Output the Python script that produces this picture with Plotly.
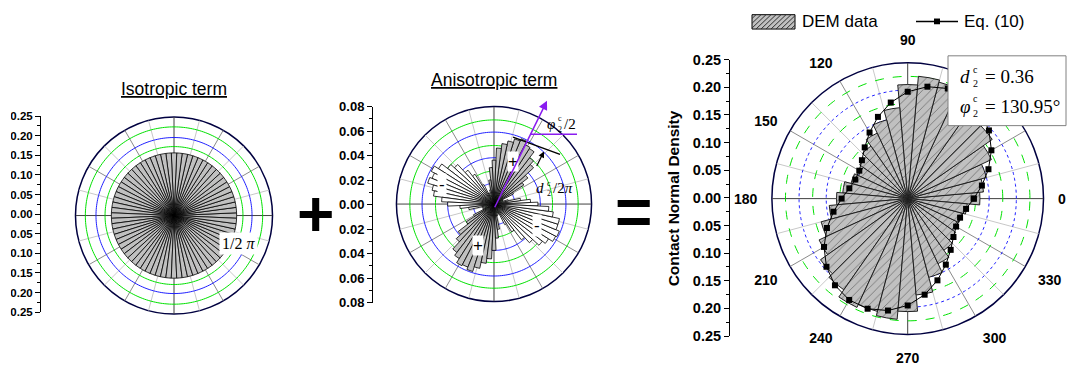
import numpy as np
import plotly.graph_objects as go

W, H = 1068, 367
SANS = "Arial, Liberation Sans, sans-serif"
SERIF = "Times New Roman, Liberation Serif, serif"

# ---------------- data ----------------
iso_theta = list(range(0, 360, 5))
iso_r = [0.159] * 72

aniso_theta = list(range(0, 360, 5))
aniso_v = [-0.036, -0.030, -0.022, -0.012, -0.003, 0.008, 0.018, 0.029, 0.035, 0.044,
           0.048, 0.054, 0.055, 0.058, 0.056, 0.053, 0.050, 0.046, 0.036, 0.030,
           0.020, 0.012, 0.002, -0.010, -0.018, -0.029, -0.035, -0.044, -0.048, -0.054,
           -0.058, -0.055, -0.057, -0.052, -0.050, -0.043,
           -0.038, -0.028, -0.021, -0.010, 0.000, 0.010, 0.019, 0.027, 0.037, 0.042,
           0.050, 0.053, 0.057, 0.056, 0.058, 0.054, 0.049, 0.045, 0.038, 0.028,
           0.021, 0.010, 0.000, -0.009, -0.019, -0.027, -0.037, -0.043, -0.050, -0.053,
           -0.057, -0.058, -0.055, -0.055, -0.049, -0.045]

dem_theta = list(range(0, 360, 10))
dem_r = [0.133, 0.140, 0.150, 0.170, 0.190, 0.205, 0.215, 0.222, 0.226, 0.210,
         0.168, 0.150, 0.133, 0.118, 0.108, 0.100, 0.108, 0.120,
         0.131, 0.145, 0.165, 0.180, 0.196, 0.205, 0.221, 0.215, 0.223, 0.208,
         0.178, 0.150, 0.132, 0.116, 0.108, 0.100, 0.104, 0.110]
eq_r = [0.1216, 0.1387, 0.1582, 0.1779, 0.1952, 0.2083, 0.2154, 0.2157, 0.2092, 0.1967,
        0.1796, 0.1601, 0.1404, 0.1231, 0.1100, 0.1029, 0.1026, 0.1091,
        0.1216, 0.1387, 0.1582, 0.1779, 0.1952, 0.2083, 0.2154, 0.2157, 0.2092, 0.1967,
        0.1796, 0.1601, 0.1404, 0.1231, 0.1100, 0.1029, 0.1026, 0.1091]

right_angle_ticks = list(range(0, 360, 30))
# 30 and 60 sit underneath the info box in the reference (not visible)
right_angle_labels = ['0', '', '', '90', '120', '150', '180', '210', '240', '270', '300', '330']
side_ticks_025 = [-0.25, -0.20, -0.15, -0.10, -0.05, 0.0, 0.05, 0.10, 0.15, 0.20, 0.25]
side_ticks_008 = [-0.08, -0.06, -0.04, -0.02, 0.0, 0.02, 0.04, 0.06, 0.08]


def fx(px):
    return px / W


def fy(py):
    return 1 - py / H


fig = go.Figure()

# ---------------- grid helpers (drawn in background polar subplots) ----------------
def add_spokes(sub, R):
    groups = [
        ([15, 45, 75, 105, 135, 165, 195, 225, 255, 285, 315, 345], '#c8c8c8'),
        ([30, 60, 120, 150, 210, 240, 300, 330], '#8a8a8a'),
        ([0, 90, 180, 270], '#404040'),
    ]
    for angs, col in groups:
        r, th = [], []
        for a in angs:
            r += [0, R, None]
            th += [a, a, None]
        fig.add_trace(go.Scatterpolar(r=r, theta=th, mode='lines', subplot=sub,
                                      line=dict(color=col, width=1), showlegend=False,
                                      hoverinfo='skip'))


def add_circles(sub, radii, color, dash, width=1):
    th = np.linspace(0, 360, 241).tolist()
    r, tt = [], []
    for rr in radii:
        r += [rr] * len(th) + [None]
        tt += th + [None]
    fig.add_trace(go.Scatterpolar(r=r, theta=tt, mode='lines', subplot=sub,
                                  line=dict(color=color, width=width, dash=dash),
                                  showlegend=False, hoverinfo='skip'))


GREEN = '#00e000'
BLUE = '#2020ff'

# backgrounds
add_spokes('polar', 0.25)
add_circles('polar', [0.225, 0.175, 0.125], GREEN, 'solid')
add_circles('polar', [0.198, 0.15], BLUE, 'solid')

add_spokes('polar2', 0.08)
add_circles('polar2', [0.069, 0.048, 0.027, 0.007], GREEN, 'solid')
add_circles('polar2', [0.059, 0.038, 0.017], BLUE, 'solid')

add_spokes('polar3', 0.25)
add_circles('polar3', [0.225, 0.175, 0.125, 0.075, 0.025], GREEN, 'dash')
add_circles('polar3', [0.2, 0.15, 0.1, 0.05], BLUE, 'dot')

# ---------------- left: isotropic ----------------
fig.add_trace(go.Barpolar(r=iso_r, theta=iso_theta, width=5, subplot='polar4',
                          marker=dict(color='#c0c0c0', line=dict(color='black', width=0.8)),
                          showlegend=False))

# ---------------- middle: anisotropic ----------------
av = np.array(aniso_v)
at = np.array(aniso_theta)
pos = av > 0
fig.add_trace(go.Barpolar(r=av[pos], theta=at[pos], width=5, subplot='polar5',
                          marker=dict(color='#c0c0c0', line=dict(color='black', width=0.8)),
                          showlegend=False))
fig.add_trace(go.Barpolar(r=np.abs(av[~pos]), theta=at[~pos], width=5, subplot='polar5',
                          marker=dict(color='white', line=dict(color='black', width=0.8)),
                          showlegend=False))

# ---------------- right: DEM + Eq ----------------
fig.add_trace(go.Barpolar(r=dem_r, theta=dem_theta, width=10, subplot='polar6',
                          marker=dict(color='#c0c0c0', line=dict(color='#202020', width=1),
                                      pattern=dict(shape='/', fgcolor='#303030', bgcolor='#c0c0c0',
                                                   size=6, solidity=0.15)),
                          showlegend=False))
fig.add_trace(go.Scatterpolar(r=eq_r + [eq_r[0]], theta=dem_theta + [360], subplot='polar6',
                              mode='lines+markers', line=dict(color='black', width=1),
                              marker=dict(symbol='square', size=6, color='black'),
                              showlegend=False))


def polar_cfg(cx, cy, R, rmax, labels=False, line=True):
    ang = dict(showgrid=False, showline=line, linecolor='#000040', linewidth=1.5,
               ticks='', rotation=0, direction='counterclockwise', layer='below traces',
               showticklabels=labels)
    if labels:
        ang.update(tickmode='array', tickvals=right_angle_ticks,
                   ticktext=[f'<b>{a}</b>' if a else '' for a in right_angle_labels],
                   ticks='outside', ticklen=11, tickcolor='rgba(0,0,0,0)',
                   tickfont=dict(family=SANS, size=14, color='black'))
    return dict(domain=dict(x=[fx(cx - R), fx(cx + R)], y=[fy(cy + R), fy(cy - R)]),
                bgcolor='rgba(0,0,0,0)', bargap=0,
                radialaxis=dict(visible=False, range=[0, rmax]),
                angularaxis=ang)


# ---------------- side axes ----------------
def side_axis(xpos, ytop, ybot, vals, minor, fsize):
    vmax = max(vals)
    return dict(anchor='free', position=xpos / W, domain=[fy(ybot), fy(ytop)],
                range=[-vmax, vmax], tickmode='array', tickvals=vals,
                ticktext=[f'<b>{abs(v):.2f}</b>' for v in vals],
                ticks='outside', ticklen=5, tickwidth=1, tickcolor='black',
                showline=True, linecolor='black', linewidth=1, showgrid=False,
                zeroline=False, tickfont=dict(family=SANS, size=fsize, color='black'),
                minor=dict(dtick=minor, tick0=0, ticks='outside', ticklen=3,
                           tickcolor='black', showgrid=False))


for i in (1, 2, 3):
    s = '' if i == 1 else str(i)
    fig.add_trace(go.Scatter(x=[None], y=[None], xaxis='x' + s, yaxis='y' + s,
                             showlegend=False, hoverinfo='skip'))

dummy_x = dict(visible=False, domain=[0, 0.01], range=[0, 1])
P_LEFT = (174, 217, 103, 0.25)
P_MID = (494, 205, 102, 0.08)
P_RIGHT = (907.7, 199.3, 142, 0.25)
fig.update_layout(
    xaxis=dict(dummy_x, anchor='y'),
    xaxis2=dict(dummy_x, anchor='y2'),
    xaxis3=dict(dummy_x, anchor='y3'),
    yaxis=side_axis(40, 113, 318, side_ticks_025, 0.025, 11.5),
    yaxis2=side_axis(372, 103, 308, side_ticks_008, 0.01, 13),
    yaxis3=side_axis(729, 54, 343, side_ticks_025, 0.025, 14.5),
    polar=polar_cfg(*P_LEFT),
    polar2=polar_cfg(*P_MID),
    polar3=polar_cfg(*P_RIGHT, labels=True),
    polar4=polar_cfg(*P_LEFT, line=False),
    polar5=polar_cfg(*P_MID, line=False),
    polar6=polar_cfg(*P_RIGHT, line=False),
)

# ---------------- annotations ----------------
anns = []


def ann(px, py, text, size, family=SANS, color='black', xanchor='center', **kw):
    d = dict(x=fx(px), y=fy(py), xref='paper', yref='paper', text=text, showarrow=False,
             xanchor=xanchor, yanchor='middle',
             font=dict(family=family, size=size, color=color))
    d.update(kw)
    anns.append(d)


ann(174, 85, '<u>Isotropic term</u>', 17.5)
ann(494, 75, '<u>Anisotropic term</u>', 17.5)
ann(315, 215, '<b>+</b>', 64)
ann(633, 213, '<b>=</b>', 64)
ann(673, 199, '<b>Contact Normal Density</b>', 15.5, textangle=-90)

# left label
ann(238, 246, '1/2 <i>π</i>', 16, family=SERIF, bgcolor='white', borderpad=2)

# middle +/- boxes
ann(513, 160, '+', 17, bgcolor='white', borderpad=0)
ann(478, 248, '+', 17, bgcolor='white', borderpad=0)
ann(442, 185, '-', 17, bgcolor='white', borderpad=1)
ann(537, 227, '-', 17, bgcolor='white', borderpad=1)

# middle phi/2 and d/2pi labels
PURPLE = '#8a1cf0'
ann(551, 121, '<i>φ</i>', 15, family=SERIF)
ann(556, 116, 'c', 8, family=SERIF, xanchor='left')
ann(556, 127, '2', 8, family=SERIF, xanchor='left')
ann(562, 121, '/2', 15, family=SERIF, xanchor='left')
ann(540, 188, '<i>d</i>', 15, family=SERIF)
ann(545, 183, 'c', 8, family=SERIF, xanchor='left')
ann(545, 194, '2', 8, family=SERIF, xanchor='left')
ann(551, 188, '/2<i>π</i>', 15, family=SERIF, xanchor='left')

# purple arrow from center
anns.append(dict(x=fx(547), y=fy(97), xref='paper', yref='paper', ax=-53, ay=108,
                 axref='pixel', ayref='pixel', showarrow=True, arrowhead=2, arrowsize=1.2,
                 arrowwidth=1.5, arrowcolor=PURPLE, text=''))
# small black arrow
anns.append(dict(x=fx(544), y=fy(150), xref='paper', yref='paper', ax=-8, ay=16,
                 axref='pixel', ayref='pixel', showarrow=True, arrowhead=2, arrowsize=1,
                 arrowwidth=1.2, arrowcolor='black', text=''))

# right info box text
ann(965, 72, '<i>d</i>', 19, family=SERIF)
ann(971, 64, 'c', 10, family=SERIF, xanchor='left')
ann(971, 79, '2', 10, family=SERIF, xanchor='left')
ann(983, 72, '= 0.36', 19, family=SERIF, xanchor='left')
ann(965, 103, '<i>φ</i>', 19, family=SERIF)
ann(971, 95, 'c', 10, family=SERIF, xanchor='left')
ann(971, 110, '2', 10, family=SERIF, xanchor='left')
ann(983, 103, '= 130.95°', 19, family=SERIF, xanchor='left')

# legend text
ann(800, 14, 'DEM data', 17, xanchor='left')
ann(962, 14, 'Eq. (10)', 17, xanchor='left')

shapes = []
# info box
shapes.append(dict(type='rect', xref='paper', yref='paper', x0=fx(948), x1=fx(1066),
                   y0=fy(123), y1=fy(50), fillcolor='white', line=dict(color='#808080', width=1),
                   layer='above'))
# purple horizontal line & tangent line (middle)
shapes.append(dict(type='line', xref='paper', yref='paper', x0=fx(530), x1=fx(577),
                   y0=fy(132), y1=fy(132), line=dict(color=PURPLE, width=1.5)))
shapes.append(dict(type='line', xref='paper', yref='paper', x0=fx(513), x1=fx(560),
                   y0=fy(135), y1=fy(153), line=dict(color='black', width=1.5)))

# legend swatch (hatched)
x0, x1, y0, y1 = 752, 795, 7, 22
shapes.append(dict(type='rect', xref='paper', yref='paper', x0=fx(x0), x1=fx(x1),
                   y0=fy(y1), y1=fy(y0), fillcolor='#c0c0c0', line=dict(color='black', width=1)))
path = ''
c = x0 + y0 + 4
while c < x1 + y1:
    xa = max(x0, c - y1)
    xb = min(x1, c - y0)
    if xb > xa:
        path += f'M{fx(xa)},{fy(c - xa)} L{fx(xb)},{fy(c - xb)} '
    c += 5
shapes.append(dict(type='path', xref='paper', yref='paper', path=path,
                   line=dict(color='#303030', width=1)))
# legend line + marker
shapes.append(dict(type='line', xref='paper', yref='paper', x0=fx(916), x1=fx(958),
                   y0=fy(14), y1=fy(14), line=dict(color='black', width=1.5)))
shapes.append(dict(type='rect', xref='paper', yref='paper', x0=fx(934), x1=fx(940),
                   y0=fy(17), y1=fy(11), fillcolor='black', line=dict(color='black', width=0)))

fig.update_layout(width=W, height=H, margin=dict(l=0, r=0, t=0, b=0),
                  paper_bgcolor='white', plot_bgcolor='white', showlegend=False,
                  annotations=anns, shapes=shapes)

fig.write_html("out.html")
